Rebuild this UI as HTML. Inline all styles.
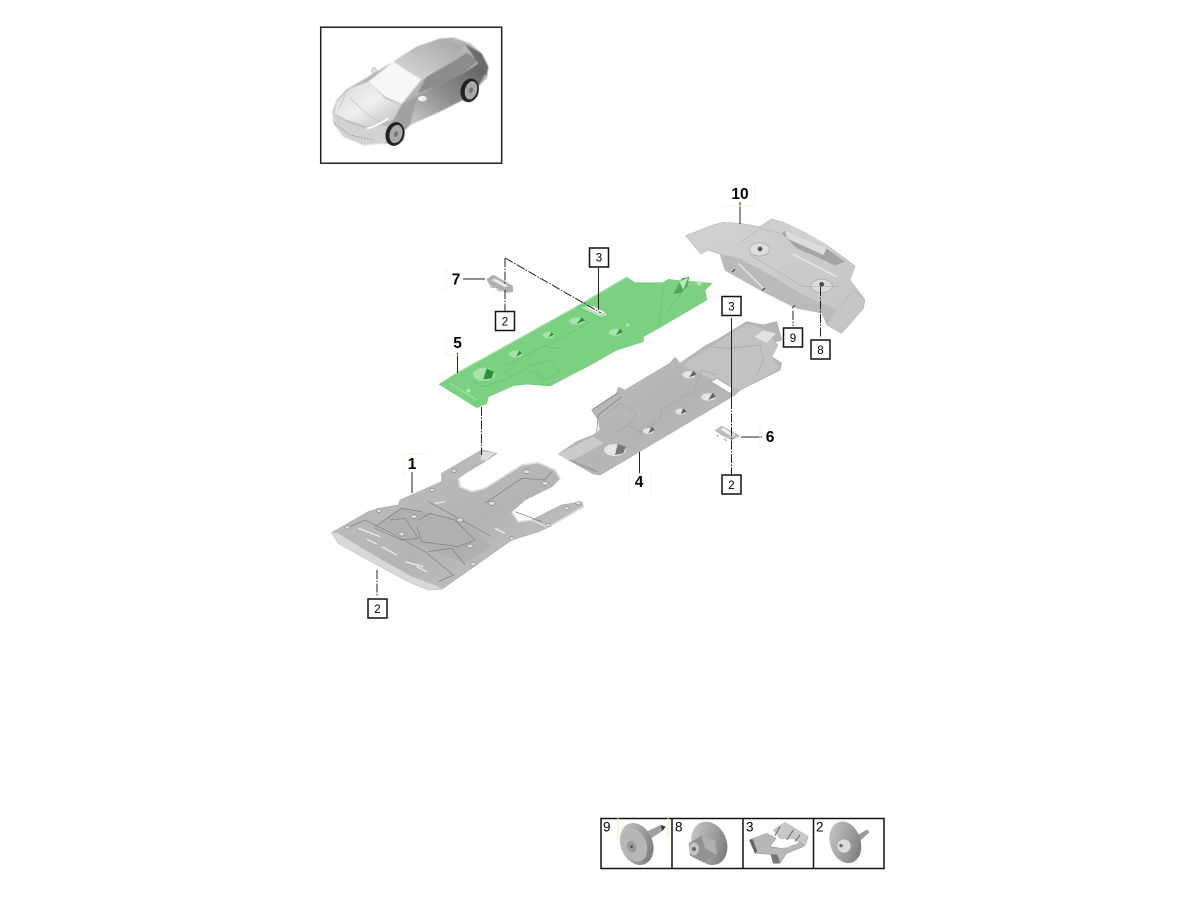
<!DOCTYPE html>
<html><head><meta charset="utf-8"><style>
html,body{margin:0;padding:0;background:#fff}
svg{display:block}
text{font-family:"Liberation Sans",sans-serif;fill:#000}
.b{font-weight:700;font-size:15.5px;text-anchor:middle}
.n{font-size:11.5px;text-anchor:middle}
.box{fill:#fff;stroke:#111;stroke-width:1.5}
.l{stroke:#222;stroke-width:1;fill:none}
.d{stroke:#222;stroke-width:1;fill:none;stroke-dasharray:9 1.5 1.5 1.5}
.y{stroke:#fcf2d8;stroke-width:1;fill:none}
.t{font-size:13.5px}
</style></head><body>
<svg width="1200" height="900" viewBox="0 0 1200 900" xmlns="http://www.w3.org/2000/svg">
<defs>
<filter id="s" x="-5%" y="-5%" width="110%" height="110%"><feGaussianBlur stdDeviation="0.6"/></filter>
<filter id="c" x="-5%" y="-5%" width="110%" height="110%"><feGaussianBlur stdDeviation="1.5"/></filter>
<linearGradient id="gp" x1="0" y1="0" x2="1" y2="1"><stop offset="0" stop-color="#c0c0c0"/><stop offset=".55" stop-color="#b4b4b4"/><stop offset="1" stop-color="#c8c8c8"/></linearGradient>
<linearGradient id="gq" x1="0" y1="0" x2="1" y2="1"><stop offset="0" stop-color="#d2d2d2"/><stop offset="1" stop-color="#c4c4c4"/></linearGradient>
<linearGradient id="gs" x1="0" y1="1" x2="1" y2="0"><stop offset="0" stop-color="#c9c9c9"/><stop offset=".45" stop-color="#8f8f8f"/><stop offset="1" stop-color="#5e5e5e"/></linearGradient>
<linearGradient id="gh" x1="0" y1="0" x2="1" y2="1"><stop offset="0" stop-color="#d8d8d8"/><stop offset=".5" stop-color="#efefef"/><stop offset="1" stop-color="#bcbcbc"/></linearGradient>
<linearGradient id="gr" x1="0" y1="1" x2="1" y2="0"><stop offset="0" stop-color="#dcdcdc"/><stop offset="1" stop-color="#a3a3a3"/></linearGradient>
<linearGradient id="gm" x1="0" y1="0" x2="1" y2="1"><stop offset="0" stop-color="#cfcfcf"/><stop offset=".6" stop-color="#989898"/><stop offset="1" stop-color="#6e6e6e"/></linearGradient>
</defs>

<!-- car thumbnail -->
<rect x="320.700" y="27.200" width="181" height="136" fill="#fff" stroke="#222" stroke-width="1.500"/>
<g transform="translate(330,30) scale(.33333)">
<g filter="url(#c)">
<path d="M8,245 L20,210 L50,178 L115,140 L190,95 L260,50 L330,25 L370,22 L420,40 L455,70 L475,110 L470,145 L445,170 L445,200 L420,218 L395,212 L330,245 L240,285 L225,300 L222,330 L195,345 L165,340 L100,345 L40,320 L10,280 Z" fill="#b5b5b5"/>
<path d="M240,285 L262,195 L330,165 L400,130 L445,100 L472,120 L445,170 L395,212 L330,245 Z" fill="url(#gs)"/>
<path d="M262,190 L290,140 L370,95 L410,68 L445,92 L400,130 L330,165 Z" fill="#8c8c8c"/>
<path d="M405,42 L455,70 L475,110 L470,140 L445,100 Z" fill="#6c6c6c"/>
<path d="M190,95 L260,55 L330,28 L405,45 L375,85 L275,150 L235,125 Z" fill="url(#gr)"/>
<path d="M115,155 L190,95 L235,125 L275,148 L215,222 L165,200 Z" fill="#f7f7f7"/>
<path d="M20,215 L60,175 L115,155 L165,205 L215,225 L190,270 L110,290 L50,270 L12,250 Z" fill="url(#gh)"/>
<path d="M190,270 L215,225 L262,195 L240,285 L225,300 L180,295 Z" fill="#a0a0a0"/>
<path d="M8,250 L50,275 L110,295 L160,285 L180,295 L165,340 L100,345 L40,320 L10,280 Z" fill="#d2d2d2"/>
</g>
<path d="M25,240 L45,195 M60,205 L115,255 L150,275" stroke="#bcbcbc" stroke-width="2" fill="none"/>
<path d="M110,295 Q140,290 175,265" stroke="#fff" stroke-width="6" fill="none"/>
<path d="M15,282 L60,315 L130,330" stroke="#777" stroke-width="2" stroke-dasharray="4 5" fill="none"/>
<ellipse cx="277" cy="206" rx="14" ry="9" fill="#efefef" stroke="#888"/>
<ellipse cx="132" cy="122" rx="7" ry="10" fill="#ddd" stroke="#777"/>
<ellipse cx="195" cy="312" rx="28" ry="36" fill="#222" transform="rotate(15 195 312)"/>
<ellipse cx="198" cy="312" rx="19" ry="28" fill="#a8a8a8" transform="rotate(15 198 312)"/>
<ellipse cx="198" cy="312" rx="6" ry="9" fill="#777" transform="rotate(15 198 312)"/>
<ellipse cx="419" cy="181" rx="27" ry="36" fill="#222" transform="rotate(15 419 181)"/>
<ellipse cx="423" cy="181" rx="18" ry="28" fill="#a8a8a8" transform="rotate(15 423 181)"/>
<ellipse cx="423" cy="181" rx="6" ry="9" fill="#777" transform="rotate(15 423 181)"/>
</g>

<!-- part 10 -->
<g transform="translate(690,215) scale(.33333)" filter="url(#s)">
<path d="M-13,62 L70,30 L100,22 L150,25 L210,35 L245,12 L280,22 L340,50 L410,90 L495,153 L480,195 L525,255 L520,280 L455,355 L410,330 L418,300 L395,295 L380,290 L320,280 L220,230 L130,180 L105,165 L90,117 L55,105 L32,117 Z" fill="url(#gq)" stroke="#b8b8b8" stroke-width="2"/>
<path d="M90,117 L150,130 L240,180 L340,240 L440,285 L410,330 L395,295 L320,280 L220,230 L130,180 L105,165 Z" fill="#bababa"/>
<path d="M245,35 L280,22 L340,50 L410,90 L465,140 L435,152 L390,130 L320,100 L275,55 Z" fill="#d0d0d0"/>
<path d="M275,55 L285,47 L410,100 L465,140 L435,152 L390,130 L320,100 Z" fill="#a4a4a4"/>
<path d="M285,47 L410,100 L400,120 L290,70 Z" fill="#dcdcdc"/>
<ellipse cx="208" cy="103" rx="30" ry="20" fill="#dcdcdc" stroke="#a5a5a5" stroke-width="2"/>
<circle cx="210" cy="102" r="7" fill="#555"/>
<ellipse cx="395" cy="213" rx="32" ry="20" fill="#dcdcdc" stroke="#a5a5a5" stroke-width="2"/>
<circle cx="395" cy="208" r="7" fill="#444"/>
<path d="M308,117 L440,185 M145,145 L220,220" stroke="#ececec" stroke-width="4" fill="none"/>
<path d="M155,80 L210,40 L270,55 M180,120 L340,215 L450,215 M450,275 L490,225 L520,250" stroke="#a5a5a5" stroke-width="1.500" fill="none"/>
<path d="M126,171 l9,-8 M216,227 l9,-8 M306,279 l9,-8" stroke="#333" stroke-width="3"/>
</g>

<!-- part 5 green -->
<g transform="translate(430,240) scale(.33333)" filter="url(#s)">
<path d="M28,433 L80,400 L440,200 L590,112 L615,128 L700,128 L715,118 L750,122 L790,125 L845,130 L825,150 L830,180 L690,262 L640,290 L640,305 L560,330 L490,370 L360,438 L290,432 L250,437 L175,470 L170,490 L140,503 Z" fill="#7bd082" stroke="#72cc7a" stroke-width="2"/>
<path d="M80,400 L440,200 M590,112 L470,182 M60,430 L140,480" stroke="#9adf9f" stroke-width="4" fill="none"/>
<path d="M700,135 L687,260 M710,215 L760,150 M340,320 L400,290 L480,245 M230,375 L340,320 L390,325 M290,380 L360,360 L390,395 L350,420 L300,390 M215,385 L240,410 L290,385 M120,420 L160,440 L250,410" stroke="#5cb965" stroke-width="1.500" fill="none"/>
<path d="M730,162 L755,115 L778,110 L772,140 L755,158 Z" fill="#4fa958"/>
<path d="M748,125 L775,112 L760,150 Z" fill="#b4e9b7"/>
<path d="M448,203 L475,192 L525,212 L535,225 L515,235 Z" fill="#a8e4ac" stroke="#5dba66" stroke-width="2"/>
<path d="M470,203 L510,222 L525,218 L490,198 Z" fill="#fff"/>
<ellipse cx="162" cy="403" rx="33" ry="20" fill="#a6e2aa"/><path d="M160,418 L170,385 L192,395 L185,415 Z" fill="#2f8f3b"/>
<ellipse cx="258" cy="342" rx="20" ry="11" fill="#a6e2aa"/><path d="M258,350 L268,332 L277,340 Z" fill="#2f8f3b"/>
<ellipse cx="355" cy="285" rx="18" ry="10" fill="#a6e2aa"/><path d="M355,292 L365,276 L372,284 Z" fill="#2f8f3b"/>
<ellipse cx="440" cy="243" rx="22" ry="11" fill="#a6e2aa"/><path d="M440,252 L455,232 L465,242 Z" fill="#2f8f3b"/>
<ellipse cx="557" cy="277" rx="20" ry="11" fill="#a6e2aa"/><path d="M558,285 L570,265 L578,277 Z" fill="#2f8f3b"/>
<circle cx="593" cy="255" r="6" fill="#a6e2aa"/><circle cx="808" cy="130" r="7" fill="#b4e9b7"/>
<circle cx="115" cy="452" r="6" fill="#b4e9b7"/>
</g>

<!-- part 4 -->
<g transform="translate(550,300) scale(.33333)" filter="url(#s)">
<path d="M25,462 L80,425 L130,405 L150,390 L145,360 L125,330 L200,280 L205,262 L225,270 L360,190 L375,172 L390,190 L470,135 L500,120 L590,65 L640,75 L680,65 L695,120 L660,130 L665,170 L695,190 L690,210 L570,270 L555,285 L150,525 L130,522 Z" fill="url(#gp)" stroke="#aaa" stroke-width="2"/>
<path d="M395,195 L590,72 L640,85 L685,135 L665,175 L690,205 L570,268 L545,262 L490,240 Z" fill="#c2c2c2"/>
<path d="M25,462 L130,410 L160,430 L60,485 Z" fill="#cbcbcb"/>
<path d="M125,330 L205,278 M140,395 L145,345 L215,290 M60,480 L140,515" stroke="#777" stroke-width="2" fill="none"/>
<path d="M170,340 L210,310 L260,340 L235,375 L270,395 L330,360 L335,325 L430,275 L455,210 L500,225 M195,400 L235,375 M480,140 L540,145 L630,135 L640,180 L620,225" stroke="#999" stroke-width="1.500" fill="none"/>
<path d="M610,110 L640,90 L680,100 L650,130 Z" fill="#e2e2e2" stroke="#a5a5a5"/>
<path d="M483,245 L500,235 L550,265 L540,280 Z" fill="#fff" stroke="#999" stroke-width="2"/>
<ellipse cx="195" cy="450" rx="33" ry="18" fill="#e4e4e4"/><path d="M195,465 L203,432 L228,440 L220,460 Z" fill="#777"/>
<ellipse cx="295" cy="393" rx="17" ry="9" fill="#e4e4e4"/><path d="M295,400 L305,380 L315,390 Z" fill="#666"/>
<ellipse cx="392" cy="335" rx="16" ry="9" fill="#e4e4e4"/><path d="M392,342 L400,325 L410,335 Z" fill="#555"/>
<ellipse cx="475" cy="291" rx="22" ry="11" fill="#e4e4e4"/><path d="M475,300 L488,278 L498,290 Z" fill="#666"/>
<ellipse cx="417" cy="224" rx="20" ry="11" fill="#e4e4e4"/><path d="M417,232 L430,212 L440,224 Z" fill="#666"/>
</g>

<!-- part 1 -->
<g transform="translate(325,440) scale(.33333)" filter="url(#s)">
<path d="M20,278 L60,255 L130,215 L160,205 L220,195 L225,180 L350,125 L350,100 L470,30 L515,40 L490,58 L420,100 L400,115 L405,140 L440,155 L480,145 L590,75 L640,68 L690,90 L705,115 L680,140 L600,180 L560,215 L580,245 L620,240 L710,195 L770,185 L775,200 L670,262 L640,275 L560,300 L350,448 L310,450 L250,425 L120,355 L40,310 Z" fill="url(#gp)" stroke="#aaa" stroke-width="2"/>
<path d="M20,278 L40,280 L120,330 L260,410 L330,435 L350,448 L310,450 L250,425 L120,355 L40,310 Z" fill="#d8d8d8"/>
<path d="M400,115 L405,140 L440,155 L480,145 L590,75 L640,68 L690,90 L705,115 M775,200 L670,262 L620,240 L580,245 L560,215" stroke="#dedede" stroke-width="5" fill="none"/>
<path d="M150,260 L230,200 L290,215 L420,240 L500,320 L420,370 L320,330 Z" fill="#b0b0b0"/>
<path d="M150,260 L230,205 L290,215 M195,240 L240,235 L280,295 L230,300 L150,265 M280,240 L315,220 L390,240 L450,300 L400,320 L290,305 L275,260 M310,335 L380,325 L420,375 M65,265 L120,240 L180,270 L300,335 L385,405 L340,425 M480,190 L590,115 L660,120 L680,95 M310,185 L500,290 M570,215 L650,245" stroke="#777" stroke-width="1.800" fill="none"/>
<path d="M100,265 L165,290 M170,320 L215,345 M240,365 L295,380 M330,190 L360,185 M510,265 L540,280 M125,297 L155,312 M275,380 L305,395" stroke="#f2f2f2" stroke-width="3.500" fill="none"/>
<g fill="#dcdcdc" stroke="#666" stroke-width="1.500">
<ellipse cx="67" cy="262" rx="8" ry="5"/><ellipse cx="162" cy="212" rx="8" ry="5"/><ellipse cx="322" cy="150" rx="8" ry="5"/><ellipse cx="387" cy="92" rx="8" ry="5"/><ellipse cx="605" cy="95" rx="10" ry="6"/><ellipse cx="660" cy="130" rx="10" ry="6"/><ellipse cx="500" cy="190" rx="10" ry="6"/><ellipse cx="405" cy="240" rx="10" ry="6"/><ellipse cx="267" cy="230" rx="9" ry="6"/><ellipse cx="230" cy="282" rx="9" ry="6"/><ellipse cx="435" cy="318" rx="9" ry="6"/><ellipse cx="445" cy="372" rx="9" ry="6"/><ellipse cx="670" cy="255" rx="7" ry="5"/><ellipse cx="560" cy="295" rx="7" ry="5"/><ellipse cx="760" cy="190" rx="8" ry="5"/><ellipse cx="725" cy="205" rx="8" ry="5"/>
</g>
<path d="M470,35 L510,38 L485,62 L468,60 Z" fill="#ddd"/>
</g>

<!-- part 7 clip -->
<g transform="translate(440,270) scale(.33333)" filter="url(#s)">
<path d="M140,28 L160,15 L218,48 L218,65 L200,68 L150,45 Z" fill="#b0b0b0" stroke="#999"/>
<path d="M155,30 L165,25 L205,48 L195,52 Z" fill="#e8e8e8"/>
<path d="M170,58 L184,65 M150,50 l14,4" stroke="#aaa" stroke-width="3"/>
</g>
<!-- part 6 clip -->
<g transform="translate(550,300) scale(.33333)" filter="url(#s)">
<path d="M495,392 L515,378 L570,408 L545,420 L515,405 Z" fill="#bcbcbc" stroke="#999"/>
<path d="M512,388 L520,383 L555,405 L545,410 Z" fill="#efefef"/>
<path d="M522,415 l8,8 M500,405 l6,5" stroke="#999" stroke-width="3"/>
</g>

<!-- connectors -->
<path class="l" d="M463,279 H485"/>
<path class="d" d="M505,258 V284 M505,258 L601,313 M505,290 V311"/>
<path class="l" d="M598.500,268 V310"/>
<path class="d" d="M481.500,407 V455"/>
<path class="l" d="M457.500,353 V373"/>
<path class="l" d="M412,472 V493"/>
<path class="d" d="M377,570 V597"/>
<path class="l" d="M639.500,452 V473"/>
<path class="l" d="M741,437 H762"/>
<path class="l" d="M731.500,318 V400"/>
<path class="d" d="M731.500,400 V475"/>
<path class="l" d="M740,202 V224"/>
<path class="d" d="M820.500,287 V338"/>
<path class="d" d="M793,311 V326"/>

<!-- faint yellow marks -->
<path class="y" d="M446,267 V291 M446,335 V355 H468 M404,454 V476 M402,454 H425 M629,472 V494 M651,472 V494 M760,424 V447 M725,206 H755 V183"/>

<!-- boxes -->
<rect class="box" x="589.500" y="248" width="19" height="19"/><text class="n" x="599" y="261.500">3</text>
<rect class="box" x="495.500" y="311.500" width="19" height="19"/><text class="n" x="505" y="325.500">2</text>
<rect class="box" x="722" y="296.500" width="19" height="19"/><text class="n" x="731.500" y="310.500">3</text>
<rect class="box" x="783.500" y="328" width="19" height="19"/><text class="n" x="793" y="342">9</text>
<rect class="box" x="811" y="340" width="19" height="19"/><text class="n" x="820.500" y="354">8</text>
<rect class="box" x="722" y="475" width="19" height="19"/><text class="n" x="731.500" y="489">2</text>
<rect class="box" x="368" y="599" width="19" height="19"/><text class="n" x="377.500" y="613">2</text>

<!-- bold labels -->
<text class="b" x="740" y="199">10</text>
<text class="b" x="456" y="284.500">7</text>
<text class="b" x="457.500" y="348">5</text>
<text class="b" x="770" y="442">6</text>
<text class="b" x="639" y="487">4</text>
<text class="b" x="412" y="469">1</text>

<!-- legend -->
<rect x="601" y="818.500" width="283" height="50" fill="#fff" stroke="#111" stroke-width="1.500"/>
<path d="M672,818 V869 M743,818 V869 M813.500,818 V869" stroke="#111" stroke-width="1.500"/>
<text class="t" x="603" y="831.500">9</text><text class="t" x="675" y="831.500">8</text><text class="t" x="746" y="831.500">3</text><text class="t" x="816" y="831.500">2</text>
<path d="M618,816 V840 M668,816 V838" stroke="#f6e7b5" stroke-width="1" fill="none"/>

<g transform="translate(600,815) scale(.33333)">
<g filter="url(#s)">
<path d="M140,50 L182,30 L197,35 L187,48 L150,72 Z" fill="#a0a0a0"/><path d="M182,30 L197,35 L187,48 Z" fill="#333"/>
<ellipse cx="110" cy="87" rx="48" ry="65" fill="url(#gm)" transform="rotate(-22 110 87)"/>
<ellipse cx="103" cy="90" rx="36" ry="52" fill="#b6b6b6" transform="rotate(-22 103 90)"/>
<ellipse cx="95" cy="95" rx="13" ry="18" fill="#999" transform="rotate(-22 95 95)"/>
<circle cx="95" cy="95" r="4" fill="#444"/>
<ellipse cx="328" cy="85" rx="52" ry="67" fill="url(#gm)" transform="rotate(-22 328 85)"/>
<path d="M266,85 L305,62 L345,75 L350,120 L310,142 L270,122 Z" fill="#929292"/>
<path d="M305,62 L345,75 L350,120 L315,100 Z" fill="#b0b0b0"/>
<ellipse cx="282" cy="102" rx="15" ry="19" fill="#c4c4c4"/><circle cx="282" cy="102" r="6" fill="#666"/>
</g>
</g>
<g transform="translate(740,815) scale(.33333)">
<g filter="url(#s)">
<path d="M28,75 L80,55 L108,70 L90,95 L125,100 L165,90 L195,70 L190,95 L140,115 L120,145 L100,145 L92,118 L45,115 Z" fill="#b8b8b8" stroke="#666"/>
<path d="M28,75 L45,115 L52,110 L38,72 Z" fill="#666"/>
<path d="M92,118 L100,145 L120,145 L112,118 Z" fill="#777"/>
<path d="M100,45 L135,22 L205,65 L195,92 L160,70 L120,70 Z" fill="#c8c8c8" stroke="#777"/>
<path d="M120,35 L105,62 M160,45 L140,75 M180,60 L165,80" stroke="#666" stroke-width="3"/>
<ellipse cx="130" cy="88" rx="25" ry="10" fill="#fff"/>
<path d="M345,65 L382,43 L388,52 L355,82 Z" fill="#9a9a9a"/>
<ellipse cx="316" cy="82" rx="46" ry="64" fill="url(#gm)" transform="rotate(-18 316 82)"/>
<ellipse cx="312" cy="93" rx="20" ry="20" fill="#dcdcdc"/><circle cx="303" cy="92" r="5" fill="#666"/>
</g>
</g>
</svg>
</body></html>
